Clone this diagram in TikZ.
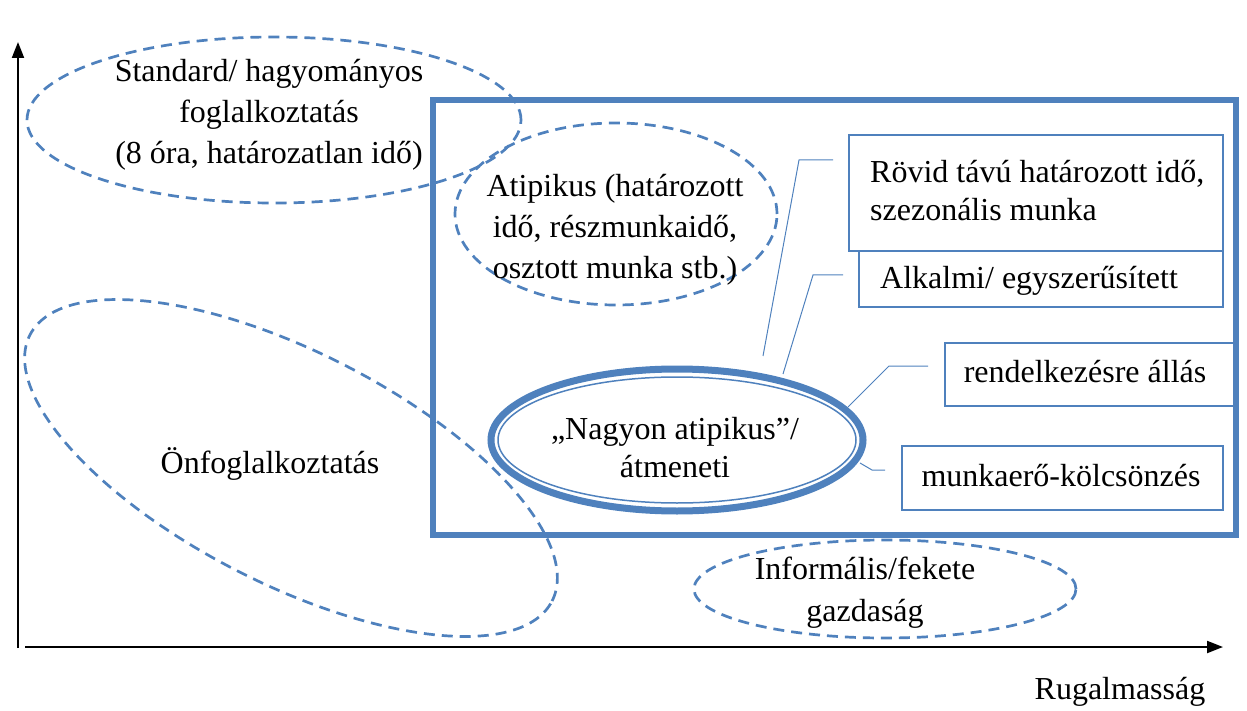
\documentclass[tikz,border=0pt]{standalone}
\usepackage{fontspec}
\setmainfont{Liberation Serif}
\usetikzlibrary{shapes.geometric,arrows.meta}
\definecolor{accent}{HTML}{4F81BD}
\begin{document}
\begin{tikzpicture}[x=1pt,y=-1pt,
  dashedell/.style={ellipse, draw=accent, line width=2.7pt, dash pattern=on 11pt off 7pt, inner sep=0pt},
  lbl/.style={font=\fontsize{32}{41}\selectfont, align=center, inner sep=0pt},
  lbltight/.style={font=\fontsize{32}{38}\selectfont, inner sep=0pt},
  thinbox/.style={draw=accent, line width=1.2pt, inner sep=0pt},
  callout/.style={draw=accent, line width=1pt},
  axisline/.style={line width=2pt, -{Triangle[length=16pt,width=12pt]}}
]
\useasboundingbox (0,0) rectangle (1247,711);

% axes
\coordinate (yb) at (18,648);
\coordinate (yt) at (18,42);
\coordinate (xb) at (25,647);
\coordinate (xt) at (1223,647);
\draw[axisline] (yb) -- (yt);
\draw[axisline] (xb) -- (xt);
\node[lbl] (rug) at (1120,692) {Rugalmasság};

% big frame
\node[draw=accent, line width=5.5pt, minimum width=803, minimum height=435, inner sep=0pt] (frame) at (834.5,317.5) {};

% standard
\node[dashedell, minimum width=494, minimum height=166] (stdell) at (274,120) {};
\node[lbl] (stdtxt) at (269,115) {Standard/ hagyományos\\foglalkoztatás\\(8 óra, határozatlan idő)};

% atipikus
\node[dashedell, minimum width=322, minimum height=182] (atell) at (616,214) {};
\node[lbl] (attxt) at (615,230) {Atipikus (határozott\\idő, részmunkaidő,\\osztott munka stb.)};

% onfoglalkoztatas
\node[dashedell, minimum width=586, minimum height=232, rotate=-27] (onell) at (291,468) {};
\node[lbl] (ontxt) at (270,464) {Önfoglalkoztatás};

% informalis
\node[dashedell, minimum width=382, minimum height=98] (infell) at (885,589) {};
\node[lbl, font=\fontsize{32}{42}\selectfont] (inftxt) at (865,593) {Informális/fekete\\gazdaság};

% nagyon atipikus double ellipse
\node[ellipse, draw=accent, line width=7pt, minimum width=372, minimum height=142, inner sep=0pt] (nagyout) at (677,440) {};
\node[ellipse, draw=accent, line width=1.5pt, minimum width=358, minimum height=126, inner sep=0pt] (nagyin) at (677,440) {};
\node[lbltight, align=center] (nagytxt) at (675,448) {„Nagyon atipikus”/\\átmeneti};

% boxes
\node[thinbox, minimum width=374, minimum height=116] (b1) at (1036,193) {};
\node[lbltight, align=left, anchor=west] (t1) at (870,191) {Rövid távú határozott idő,\\szezonális munka};
\node[thinbox, minimum width=364, minimum height=56] (b2) at (1041,279) {};
\node[lbltight, anchor=west] (t2) at (880,281) {Alkalmi/ egyszerűsített};
\node[thinbox, minimum width=293, minimum height=63] (b3) at (1091.5,374.5) {};
\node[lbltight] (t3) at (1085,372) {rendelkezésre állás};
\node[thinbox, minimum width=321, minimum height=64] (b4) at (1062.5,478) {};
\node[lbltight] (t4) at (1061,476) {munkaerő-kölcsönzés};

% callout lines
\coordinate (l1a) at (763,356);
\coordinate (l1b) at (799,160);
\coordinate (l1c) at (833,160);
\coordinate (l2a) at (783,374);
\coordinate (l2b) at (813,275);
\coordinate (l2c) at (843,275);
\coordinate (l3a) at (848,407);
\coordinate (l3b) at (889,366);
\coordinate (l3c) at (928,366);
\coordinate (l4a) at (860,463);
\coordinate (l4b) at (872,470);
\coordinate (l4c) at (885,470);
\draw[callout] (l1a) -- (l1b) -- (l1c);
\draw[callout] (l2a) -- (l2b) -- (l2c);
\draw[callout] (l3a) -- (l3b) -- (l3c);
\draw[callout] (l4a) -- (l4b) -- (l4c);
\end{tikzpicture}
\end{document}
